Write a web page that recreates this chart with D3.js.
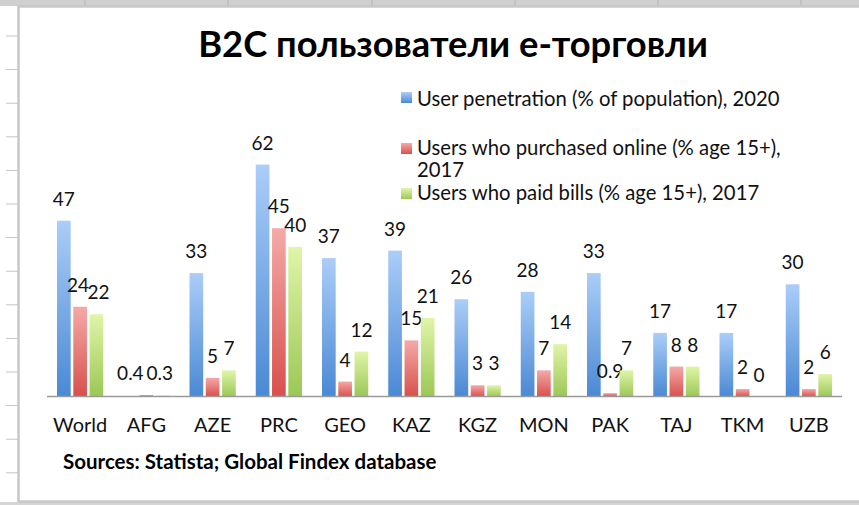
<!DOCTYPE html>
<html>
<head>
<meta charset="utf-8">
<script src="https://cdn.jsdelivr.net/npm/d3@7"></script>
<style>
  html, body { margin: 0; padding: 0; background: #fff; }
  svg { display: block; font-family: Lato, "Open Sans", sans-serif; }
</style>
</head>
<body>
<div id="chart"></div>
<script>
const titleText = "B2C пользователи е-торговли";
const sourceText = "Sources: Statista; Global Findex database";
const categories = ["World", "AFG", "AZE", "PRC", "GEO", "KAZ", "KGZ", "MON", "PAK", "TAJ", "TKM", "UZB"];
const seriesNames = [
  ["User penetration (% of population), 2020"],
  ["Users who purchased online (% age 15+),", "2017"],
  ["Users who paid bills (% age 15+), 2017"]
];
const userPenetration = [47, null, 33, 62, 37, 39, 26, 28, 33, 17, 17, 30];
const purchasedOnline = [24, 0.4, 5, 45, 4, 15, 3, 7, 0.9, 8, 2, 2];
const paidBills = [22, 0.3, 7, 40, 12, 21, 3, 14, 7, 8, 0, 6];

const width = 859;
const height = 505;
const baseline = 396.5;

const svg = d3.select("#chart")
  .append("svg")
  .attr("width", width)
  .attr("height", height);

// spreadsheet behind the chart
svg.append("rect")
  .attr("x", 0).attr("y", 0).attr("width", width).attr("height", 6)
  .attr("fill", "#d0d0d0");
svg.append("rect")
  .attr("x", 0).attr("y", 502).attr("width", width).attr("height", 3)
  .attr("fill", "#d6d6d6");
svg.selectAll(".col-line")
  .data([85, 228, 372, 515, 658, 801])
  .enter()
  .append("line")
  .attr("x1", d => d).attr("x2", d => d)
  .attr("y1", 0).attr("y2", 6)
  .attr("stroke", "#b4b4b4");
svg.selectAll(".row-line")
  .data(d3.range(14).map(i => 36 + i * 33.6))
  .enter()
  .append("line")
  .attr("x1", 6).attr("x2", 18)
  .attr("y1", d => d).attr("y2", d => d)
  .attr("stroke", "#c4c4c4");

// chart area
svg.append("rect")
  .attr("x", 18.5).attr("y", 6.5)
  .attr("width", width).attr("height", 495)
  .attr("fill", "#fff")
  .attr("stroke", "#c8c8c8")
  .attr("stroke-width", 2.5);

const colors = [
  ["#abcdf8", "#4a89d4"],
  ["#f4aaa8", "#d8504c"],
  ["#e0f5a8", "#9cc756"]
];

const defs = svg.append("defs");
colors.forEach((c, i) => {
  const g = defs.append("linearGradient")
    .attr("id", `grad${i}`)
    .attr("x1", 0).attr("y1", 0).attr("x2", 0).attr("y2", 1);
  g.append("stop").attr("offset", "0%").attr("stop-color", c[0]);
  g.append("stop").attr("offset", "100%").attr("stop-color", c[1]);
});

const x = d3.scaleBand()
  .domain(categories)
  .range([47, 842]);

const xInner = d3.scaleBand()
  .domain([0, 1, 2])
  .range([10, x.bandwidth() - 10])
  .paddingInner(0.16);

const y = d3.scaleLinear()
  .domain([0, 70])
  .range([baseline, baseline - 70 * 3.74]);

const series = [userPenetration, purchasedOnline, paidBills];

// labels that were dragged aside in the original so they don't collide
const labelNudge = { "0-1": -2, "0-2": 2, "1-1": -16, "1-2": -3 };

series.forEach((values, s) => {
  const pts = values.map((v, i) => ({ cat: categories[i], v, i }))
    .filter(d => d.v !== null);

  svg.selectAll(`.bar${s}`)
    .data(pts)
    .enter()
    .append("rect")
    .attr("class", `bar${s}`)
    .attr("x", d => x(d.cat) + xInner(s))
    .attr("y", d => y(d.v))
    .attr("width", xInner.bandwidth())
    .attr("height", d => baseline - y(d.v))
    .attr("fill", `url(#grad${s})`);

  svg.selectAll(`.lbl${s}`)
    .data(pts)
    .enter()
    .append("text")
    .attr("class", `lbl${s}`)
    .attr("x", d => x(d.cat) + xInner(s) + xInner.bandwidth() / 2 + (labelNudge[`${d.i}-${s}`] || 0))
    .attr("y", d => y(d.v) - 15)
    .attr("text-anchor", "middle")
    .attr("font-size", "19px")
    .attr("fill", "#111")
    .text(d => d.v);
});

// category axis (line + labels only)
svg.append("line")
  .attr("x1", 47).attr("x2", 842)
  .attr("y1", baseline).attr("y2", baseline)
  .attr("stroke", "#9a9a9a")
  .attr("stroke-width", 1.5);

svg.selectAll(".cat")
  .data(categories)
  .enter()
  .append("text")
  .attr("x", d => x(d) + x.bandwidth() / 2)
  .attr("y", 432)
  .attr("text-anchor", "middle")
  .attr("font-size", "20px")
  .attr("fill", "#111")
  .text(d => d);

svg.append("text")
  .attr("x", 453)
  .attr("y", 57)
  .attr("text-anchor", "middle")
  .attr("font-size", "36.3px")
  .style("font-weight", "bold")
  .attr("fill", "#000")
  .text(titleText);

svg.append("text")
  .attr("x", 63)
  .attr("y", 469)
  .attr("font-size", "20.5px")
  .style("font-weight", "bold")
  .attr("fill", "#000")
  .text(sourceText);

// legend
const legendRows = [
  { square: 92, lines: [106] },
  { square: 143, lines: [155, 177] },
  { square: 188, lines: [200] }
];

const legend = svg.selectAll(".legend")
  .data(seriesNames)
  .enter()
  .append("g")
  .attr("class", "legend");

legend.append("rect")
  .attr("x", 401)
  .attr("y", (d, i) => legendRows[i].square)
  .attr("width", 11)
  .attr("height", 11)
  .attr("fill", (d, i) => `url(#grad${i})`);

legend.each(function (d, i) {
  d3.select(this).selectAll("text")
    .data(d)
    .enter()
    .append("text")
    .attr("x", 417)
    .attr("y", (t, j) => legendRows[i].lines[j])
    .attr("font-size", "20.3px")
    .attr("fill", "#111")
    .text(t => t);
});
</script>
</body>
</html>
